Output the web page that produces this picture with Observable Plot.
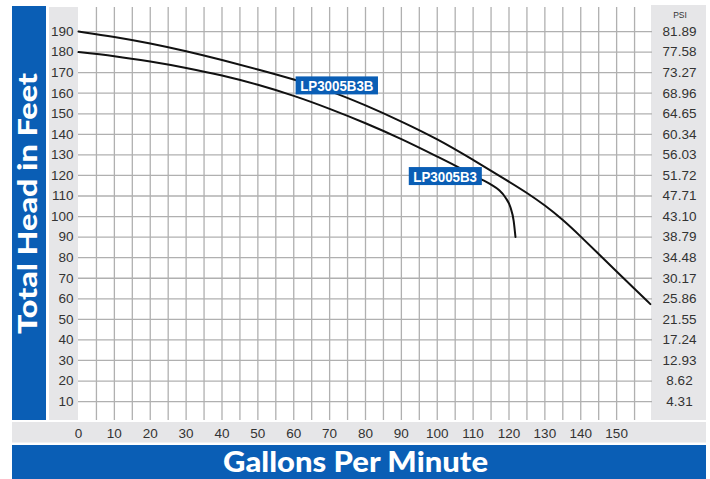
<!DOCTYPE html>
<html><head><meta charset="utf-8">
<script src="https://cdn.jsdelivr.net/npm/d3@7"></script>
<script src="https://cdn.jsdelivr.net/npm/@observablehq/plot@0.6"></script>
<style>body{margin:0;background:#fff} svg{display:block}</style>
</head><body><div id="chart"></div>
<script>
// ---- data ----
const gpmTicks = [0,10,20,30,40,50,60,70,80,90,100,110,120,130,140,150];
const gpmGrid = [5,10,15,20,25,30,35,40,45,50,55,60,65,70,75,80,85,90,95,100,105,110,115,120,125,130,135,140,145,150,155];
const headTicks = [10,20,30,40,50,60,70,80,90,100,110,120,130,140,150,160,170,180,190];
const psiLabels = ["4.31","8.62","12.93","17.24","21.55","25.86","30.17","34.48","38.79","43.10","47.71","51.72","56.03","60.34","64.65","68.96","73.27","77.58","81.89"];

const b3bGpm  = [0,10,20,30,40,50,60,70,80,90,100,110,120,125,130,135,140,145,150,155,159.4];
const b3bHead = [190,187.5,184.3,180.5,176.2,171.6,166.8,161.3,154.2,146.3,137.8,127.6,117,111.6,105.5,98.5,90.3,81.8,73.3,64.9,57.4];

const b3Gpm  = [0,10,20,30,40,50,60,70,80,90,100,105,110,112.2,114.8,117.2,119,120.4,121.3,121.8];
const b3Head = [180,178,175.4,172.3,168.6,164.1,158.7,152.4,145.4,137.7,129.2,124.8,120.2,118.2,115.8,112.9,109.3,104.5,97.9,90.1];

const labelNames = ["LP3005B3B","LP3005B3"];
const labelGpm = [72,102.2];
const labelHead = [163.3,119.2];

const xTitle = "Gallons Per Minute";
const yTitle = "Total Head in Feet";
const y2Title = "PSI";

// ---- build ----
const BLUE = "#0a5eb5", PANEL = "#e6e6e8", GRID = "#b0b0b0", INK = "#333";
const TICKFONT = "'Liberation Sans', Arial, Helvetica, sans-serif";
const b3b = b3bGpm.map((g,i)=>({gpm:g, head:b3bHead[i]}));
const b3  = b3Gpm.map((g,i)=>({gpm:g, head:b3Head[i]}));
const labels = labelNames.map((n,i)=>({name:n, gpm:labelGpm[i], head:labelHead[i]}));

const axisText = {tickSize: 0, label: null, fill: INK, fontSize: 13.5, fontFamily: TICKFONT};

const chart = Plot.plot({
  width: 710, height: 479,
  marginLeft: 78, marginRight: 58, marginTop: 7, marginBottom: 59,
  x: {domain: [0,160]},
  y: {domain: [0.8,201.7]},
  style: {fontFamily: TICKFONT, fontSize: "13.5px", color: INK, background: "white"},
  marks: [
    Plot.gridX(gpmGrid, {stroke: GRID, strokeOpacity: 1, strokeWidth: 1.3}),
    Plot.gridY(headTicks, {stroke: GRID, strokeOpacity: 1, strokeWidth: 1.3}),
    Plot.axisX(gpmTicks, {...axisText, tickPadding: 8}),
    Plot.axisY(headTicks, {...axisText, anchor: "left", tickPadding: 5}),
    Plot.axisY(headTicks, {...axisText, anchor: "right", tickPadding: 27, textAnchor: "middle",
      tickFormat: d => psiLabels[headTicks.indexOf(d)]}),
    Plot.line(b3b, {x: "gpm", y: "head", stroke: "#111", strokeWidth: 2, curve: "basis"}),
    Plot.line(b3, {x: "gpm", y: "head", stroke: "#111", strokeWidth: 2, curve: "monotone-x"}),
    Plot.text(labels, {x: "gpm", y: "head", text: "name", fill: "white", fontWeight: "bold", fontSize: 15.5,
      fontFamily: "'Liberation Sans', Arial, sans-serif"})
  ]
});
document.getElementById("chart").append(chart);

const svg = d3.select(chart);
// background panels
const deco = svg.insert("g", ":first-child");
deco.append("rect").attr("x",12).attr("y",6).attr("width",34).attr("height",414).attr("fill",BLUE);
deco.append("rect").attr("x",49).attr("y",7).attr("width",29).attr("height",413).attr("fill",PANEL);
deco.append("rect").attr("x",651).attr("y",5).attr("width",55).attr("height",415).attr("fill",PANEL);
deco.append("rect").attr("x",12).attr("y",422).attr("width",694).attr("height",20.5).attr("fill",PANEL);
deco.append("rect").attr("x",12).attr("y",445).attr("width",694).attr("height",34).attr("fill",BLUE);

// condensed label text + boxes behind series labels
svg.selectAll("text").filter(function(){ return labelNames.includes(this.textContent) && this.closest("g[aria-label='text']"); })
  .each(function(){
    const natural = this.getComputedTextLength();
    this.setAttribute("textLength", natural * 0.86);
    this.setAttribute("lengthAdjust", "spacingAndGlyphs");
    const bb = this.getBBox();
    const cy = bb.y + bb.height/2;
    const r = document.createElementNS("http://www.w3.org/2000/svg","rect");
    r.setAttribute("x", bb.x - 4.5);
    r.setAttribute("y", cy - 9.5);
    r.setAttribute("width", bb.width + 9);
    r.setAttribute("height", 18);
    r.setAttribute("fill", BLUE);
    const t = this.getAttribute("transform");
    if (t) r.setAttribute("transform", t);
    this.parentNode.insertBefore(r, this);
  });

// titles
const titleFont = "Lato, 'DejaVu Sans', sans-serif";
svg.append("text").text(yTitle)
  .attr("transform","translate(37,203.5) rotate(-90)")
  .attr("text-anchor","middle").attr("fill","white")
  .attr("font-family",titleFont).attr("font-weight",900).attr("font-size",26)
  .attr("textLength",261).attr("lengthAdjust","spacingAndGlyphs");
svg.append("text").text(xTitle)
  .attr("x",355.5).attr("y",471.5)
  .attr("text-anchor","middle").attr("fill","white")
  .attr("font-family",titleFont).attr("font-weight",900).attr("font-size",28)
  .attr("textLength",265).attr("lengthAdjust","spacingAndGlyphs");
svg.append("text").text(y2Title)
  .attr("x",680).attr("y",18)
  .attr("text-anchor","middle").attr("fill",INK)
  .attr("font-family",TICKFONT).attr("font-size",8.5);
</script>
</body></html>
